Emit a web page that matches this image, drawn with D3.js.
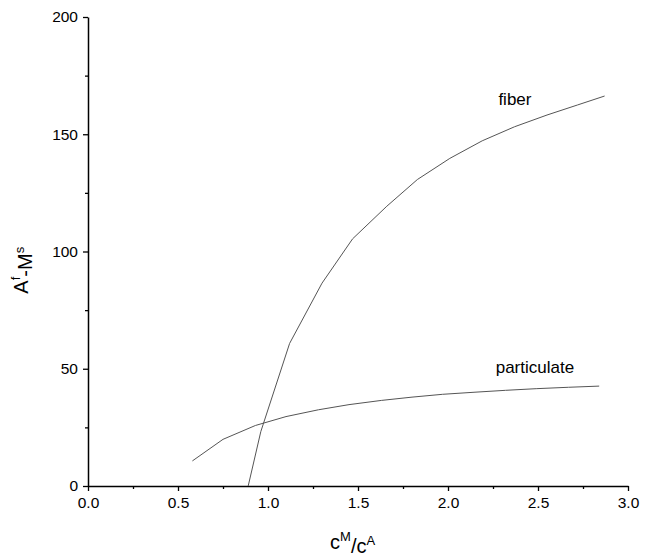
<!DOCTYPE html>
<html>
<head>
<meta charset="utf-8">
<script src="https://cdn.jsdelivr.net/npm/d3@7"></script>
<style>
  body { margin: 0; background: #fff; }
  text { font-family: "Liberation Sans", Arial, sans-serif; }
</style>
</head>
<body>
<div id="chart"></div>
<script>
var fiberX = [0.89, 0.96, 1.12, 1.30, 1.47, 1.66, 1.83, 2.01, 2.19, 2.37, 2.55, 2.72, 2.87];
var fiberY = [0, 23.2, 60.8, 86.5, 105.4, 119.3, 130.7, 139.7, 147.2, 153.2, 158.2, 162.5, 166.3];
var partX = [0.58, 0.75, 0.93, 1.10, 1.28, 1.45, 1.63, 1.80, 1.97, 2.15, 2.32, 2.49, 2.67, 2.84];
var partY = [10.7, 19.9, 25.8, 29.6, 32.5, 34.7, 36.5, 37.9, 39.1, 40.0, 40.8, 41.5, 42.1, 42.6];
var xTicks = [0, 0.5, 1.0, 1.5, 2.0, 2.5, 3.0];
var xMinor = [0.25, 0.75, 1.25, 1.75, 2.25, 2.75];
var yTicks = [0, 50, 100, 150, 200];
var yMinor = [25, 75, 125, 175];

var width = 650, height = 556;
var margin = {top: 17, right: 22, bottom: 70, left: 88};
var w = width - margin.left - margin.right;
var h = height - margin.top - margin.bottom;

var svg = d3.select("#chart")
            .append("svg")
            .attr("width", width)
            .attr("height", height)
        .append("g")
            .attr("transform", "translate(" + margin.left + "," + margin.top + ")");

var x = d3.scaleLinear().domain([0, 3]).range([0, w]);
var y = d3.scaleLinear().domain([0, 200]).range([h, 0]);

// minor ticks first, then major axes on top
svg.append("g")
    .attr("transform", "translate(0," + h + ")")
    .call(d3.axisBottom(x).tickValues(xMinor).tickSize(3).tickFormat(""))
    .call(function(g) { g.select(".domain").remove(); })
    .selectAll("line").attr("stroke-width", 1.3);

svg.append("g")
    .call(d3.axisLeft(y).tickValues(yMinor).tickSize(3).tickFormat(""))
    .call(function(g) { g.select(".domain").remove(); })
    .selectAll("line").attr("stroke-width", 1.3);

var xAxis = svg.append("g")
    .attr("transform", "translate(0," + h + ")")
    .call(d3.axisBottom(x).tickValues(xTicks).tickSize(5).tickSizeOuter(0)
        .tickFormat(d3.format(".1f")));
xAxis.select(".domain").attr("stroke-width", 1.5);
xAxis.selectAll("line").attr("stroke-width", 1.3);
xAxis.selectAll("text")
    .attr("font-size", "15.5px")
    .attr("y", 10)
    .attr("dy", "0.8em")
    .attr("fill", "#000");

var yAxis = svg.append("g")
    .call(d3.axisLeft(y).tickValues(yTicks).tickSize(5).tickSizeOuter(0));
yAxis.select(".domain").attr("stroke-width", 1.5);
yAxis.selectAll("line").attr("stroke-width", 1.3);
yAxis.selectAll("text")
    .attr("font-size", "15.5px")
    .attr("x", -10)
    .attr("fill", "#000");

var line = d3.line()
    .x(function(d) { return x(d[0]); })
    .y(function(d) { return y(d[1]); });

svg.append("path")
    .datum(d3.zip(fiberX, fiberY))
    .attr("d", line)
    .attr("fill", "none")
    .attr("stroke", "#555")
    .attr("stroke-width", 1);

svg.append("path")
    .datum(d3.zip(partX, partY))
    .attr("d", line)
    .attr("fill", "none")
    .attr("stroke", "#555")
    .attr("stroke-width", 1);

svg.append("text")
    .attr("x", x(2.28))
    .attr("y", y(162.5))
    .attr("font-size", "17px")
    .text("fiber");

svg.append("text")
    .attr("x", x(2.265))
    .attr("y", y(48))
    .attr("font-size", "17px")
    .text("particulate");

// x axis title
var xt = svg.append("text")
    .attr("x", x(1.47))
    .attr("y", h + 63)
    .attr("text-anchor", "middle")
    .attr("font-size", "20px");
xt.append("tspan").text("c");
xt.append("tspan").attr("dy", "-0.6em").attr("font-size", "13px").text("M");
xt.append("tspan").attr("dy", "0.6em").text("/c");
xt.append("tspan").attr("dy", "-0.6em").attr("font-size", "13px").text("A");

// y axis title
var yt = svg.append("text")
    .attr("transform", "translate(-60," + y(92) + ") rotate(-90)")
    .attr("text-anchor", "middle")
    .attr("font-size", "20px");
yt.append("tspan").text("A");
yt.append("tspan").attr("dy", "-0.6em").attr("font-size", "13px").text("f");
yt.append("tspan").attr("dy", "0.6em").text("-M");
yt.append("tspan").attr("dy", "-0.6em").attr("font-size", "13px").text("s");
</script>
</body>
</html>
